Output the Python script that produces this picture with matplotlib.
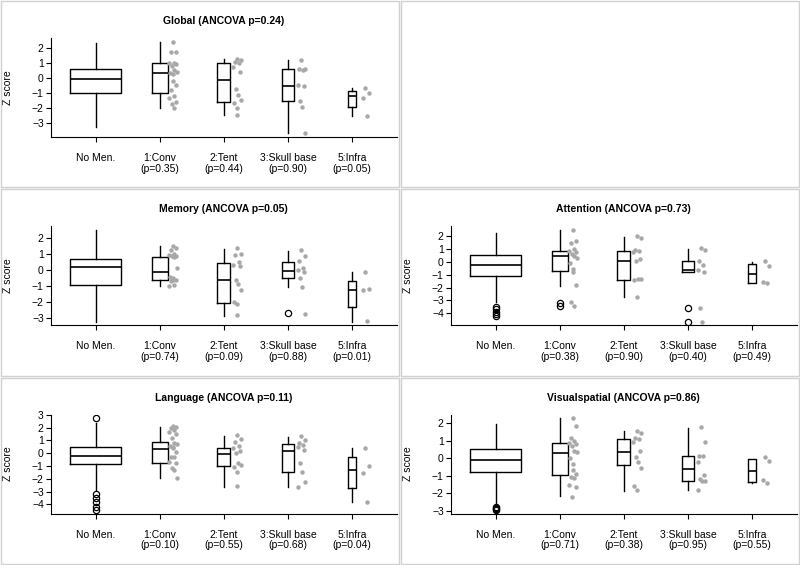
import numpy as np
import matplotlib.pyplot as plt
from matplotlib.patches import Rectangle
from matplotlib.ticker import MultipleLocator

plt.rcParams['font.family'] = ['Liberation Sans', 'DejaVu Sans']

groups = ["No Men.", "1:Conv", "2:Tent", "3:Skull base", "5:Infra"]
group_n = [220, 22, 14, 12, 5]

# box stats per group: [whisker low, q1, median, q3, whisker high]
global_box = [[-3.27, -1.0, -0.07, 0.62, 2.38],
              [-1.96, -1.0, 0.33, 1.0, 2.44],
              [-2.44, -1.6, -0.11, 1.04, 1.27],
              [-3.67, -1.49, -0.49, 0.6, 1.22],
              [-2.51, -1.93, -1.18, -0.87, -0.67]]
global_out = [[], [], [], [], []]
global_dots = [[],
               [2.42, 1.75, 1.72, 1.05, 1.0, 0.95, 0.85, 0.55, 0.45, 0.35,
                0.3, -0.2, -0.45, -0.75, -1.2, -1.3, -1.55, -1.7, -1.95],
               [1.3, 1.2, 1.1, 1.0, 0.75, 0.45, -0.7, -1.1, -1.45, -1.65,
                -1.95, -2.45],
               [1.22, 0.62, 0.6, 0.58, -0.45, -0.5, -1.5, -1.9, -3.67],
               [-0.67, -1.0, -1.33, -2.51]]
global_p = ["0.35", "0.44", "0.90", "0.05"]

memory_box = [[-3.2, -0.92, 0.19, 0.69, 2.52],
              [-0.98, -0.6, -0.08, 0.85, 1.52],
              [-2.85, -2.06, -0.62, 0.48, 1.33],
              [-1.06, -0.5, -0.04, 0.54, 1.21],
              [-3.2, -2.27, -1.23, -0.65, -0.1]]
memory_out = [[], [], [], [-2.69], []]
memory_dots = [[],
               [1.5, 1.42, 1.3, 1.05, 0.98, 0.92, 0.88, 0.85, 0.12, -0.4,
                -0.5, -0.58, -0.62, -0.65, -0.92, -0.95],
               [1.39, 1.0, 0.94, 0.52, 0.35, 0.25, -0.62, -0.84, -1.25,
                -1.98, -2.09, -2.81],
               [1.25, 0.87, 0.56, 0.15, 0.05, -0.1, -0.45, -1.04, -2.71],
               [-0.1, -1.15, -1.25, -3.17]]
memory_p = ["0.74", "0.09", "0.88", "0.01"]

attention_box = [[-3.13, -1.08, -0.26, 0.55, 2.26],
                 [-1.87, -0.71, 0.5, 0.87, 2.47],
                 [-2.74, -1.42, 0.08, 0.82, 1.95],
                 [-0.82, -0.82, -0.63, 0.08, 1.0],
                 [-1.63, -1.63, -0.95, -0.16, 0.03]]
attention_out = [[-3.5, -3.7, -3.9, -4.1, -4.25], [-3.2, -3.47], [],
                 [-3.6, -4.66], []]
attention_dots = [[],
                  [2.5, 1.6, 1.5, 1.0, 0.85, 0.75, 0.6, 0.5, 0.3, -0.1,
                   -0.55, -0.75, -1.8, -3.1, -3.4],
                  [2.05, 1.9, 0.95, 0.85, 0.8, 0.25, 0.05, -1.3, -1.35,
                   -1.42, -2.74],
                  [1.08, 0.95, 0.1, -0.24, -0.63, -0.76, -3.6, -4.66],
                  [0.05, -0.3, -1.55, -1.62]]
attention_p = ["0.38", "0.90", "0.40", "0.49"]

language_box = [[-2.87, -0.86, -0.21, 0.47, 2.35],
                [-1.96, -0.73, 0.34, 0.91, 2.09],
                [-2.61, -0.99, -0.05, 0.39, 1.38],
                [-2.61, -1.44, 0.18, 0.7, 1.3],
                [-3.79, -2.74, -1.31, -0.31, 0.39]]
language_out = [[2.74, -3.2, -3.5, -3.84, -4.18, -4.44], [], [], [], []]
language_dots = [[],
                 [2.16, 2.05, 1.95, 1.85, 1.69, 1.49, 1.17, 0.8, 0.7, 0.6,
                  0.52, 0.39, 0.13, -0.26, -0.3, -0.66, -0.78, -1.17, -1.3,
                  -1.96],
                 [1.43, 1.1, 0.86, 0.55, 0.45, 0.15, 0.0, -0.75, -0.9, -1.05,
                  -1.5, -2.56],
                 [1.38, 1.04, 0.8, 0.65, 0.5, 0.23, -0.73, -1.43, -2.22,
                  -2.61],
                 [0.44, -0.99, -1.56, -3.79]]
language_p = ["0.10", "0.55", "0.68", "0.04"]

visual_box = [[-2.7, -0.79, -0.08, 0.56, 1.94],
              [-2.17, -0.98, 0.33, 0.88, 2.29],
              [-1.85, -0.4, 0.38, 1.1, 1.56],
              [-1.81, -1.29, -0.6, 0.13, 1.75],
              [-1.4, -1.37, -0.73, -0.06, -0.02]]
visual_out = [[-2.8, -2.85, -2.9, -2.95], [], [], [], []]
visual_dots = [[],
               [2.29, 1.85, 1.14, 1.0, 0.9, 0.8, 0.7, 0.4, 0.35, 0.0, -0.35,
                -0.65, -0.88, -1.08, -1.15, -1.55, -1.65, -2.19],
               [1.58, 1.46, 1.19, 1.1, 0.95, 0.42, 0.08, -0.21, -0.54,
                -1.56, -1.81],
               [1.77, 0.94, 0.15, 0.13, -0.21, -0.94, -1.2, -1.27, -1.3,
                -1.81],
               [0.08, -0.15, -1.23, -1.4]]
visual_p = ["0.71", "0.38", "0.95", "0.55"]

jitter = [0.20, 0.26, 0.17, 0.23, 0.15, 0.25, 0.19, 0.22, 0.27, 0.16, 0.21]
FS = 7.5


def draw_panel(ax, title, box, out, dots, pvals):
    pos = np.arange(1, len(groups) + 1)
    n = np.array(group_n, dtype=float)
    widths = 0.8 * np.sqrt(n / n.max())
    stats = []
    for b, o in zip(box, out):
        stats.append(dict(whislo=b[0], q1=b[1], med=b[2], q3=b[3],
                          whishi=b[4], fliers=o))
    lw = 1.0
    ax.bxp(stats, positions=pos, widths=widths, showcaps=False,
           boxprops=dict(color='black', lw=lw),
           whiskerprops=dict(color='black', lw=lw),
           medianprops=dict(color='black', lw=1.2),
           flierprops=dict(marker='o', mfc='none', mec='black', ms=4.5,
                           mew=0.9))
    for i, d in enumerate(dots):
        if not d:
            continue
        xs = [pos[i] + jitter[k % len(jitter)] for k in range(len(d))]
        ax.plot(xs, d, 'o', color='#a8a8a8', ms=3.2, mew=0, zorder=3)

    allv = [v for b in box for v in b] + [v for o in out for v in o] + \
        [v for d in dots for v in d]
    lo, hi = min(allv), max(allv)
    ext = 0.04 * (hi - lo)
    ax.set_ylim(lo - ext, hi + ext)
    ax.set_xlim(0.3, 5.7)
    ax.yaxis.set_major_locator(MultipleLocator(1))
    labels = [groups[0]] + ["%s\n(p=%s)" % (g, p)
                            for g, p in zip(groups[1:], pvals)]
    ax.set_xticks(pos)
    ax.set_xticklabels(labels, fontsize=FS, linespacing=1.1)
    ax.tick_params(axis='x', direction='out', length=3.5, width=0.8, pad=8,
                   labelsize=FS)
    ax.tick_params(axis='y', direction='out', length=3.5, width=0.8, pad=1.5,
                   labelsize=FS)
    for s in ['top', 'right']:
        ax.spines[s].set_visible(False)
    for s in ['left', 'bottom']:
        ax.spines[s].set_linewidth(0.8)
    ax.set_ylabel("Z score", fontsize=FS, va='center')
    ax.yaxis.set_label_coords(-0.123, 0.5)
    ax.set_title(title, fontsize=FS, fontweight='bold', pad=10)


fig = plt.figure(figsize=(8, 5.65), dpi=100)
W, H = 800.0, 565.0
row_h = 188.3

panels = [
    (0, 0, "Global (ANCOVA p=0.24)", global_box, global_out, global_dots,
     global_p),
    (1, 0, "Memory (ANCOVA p=0.05)", memory_box, memory_out, memory_dots,
     memory_p),
    (1, 1, "Attention (ANCOVA p=0.73)", attention_box, attention_out,
     attention_dots, attention_p),
    (2, 0, "Language (ANCOVA p=0.11)", language_box, language_out,
     language_dots, language_p),
    (2, 1, "Visualspatial (ANCOVA p=0.86)", visual_box, visual_out,
     visual_dots, visual_p),
]

# light grey frame around every panel cell (top right one stays empty)
for r in range(3):
    for c in range(2):
        x0 = c * 400 + 1
        y0 = r * row_h + 1
        fig.patches.append(Rectangle((x0 / W, 1 - (y0 + row_h - 2) / H),
                                     398 / W, (row_h - 2) / H,
                                     transform=fig.transFigure, fill=False,
                                     edgecolor='#d0d0d0', lw=1.0))

for r, c, title, box, out, dots, pvals in panels:
    left = c * 400 + 50.7
    top = r * row_h + 38
    ax = fig.add_axes([left / W, 1 - (top + 99) / H, 346.3 / W, 99 / H])
    draw_panel(ax, title, box, out, dots, pvals)

fig.savefig("out.png", dpi=100)
